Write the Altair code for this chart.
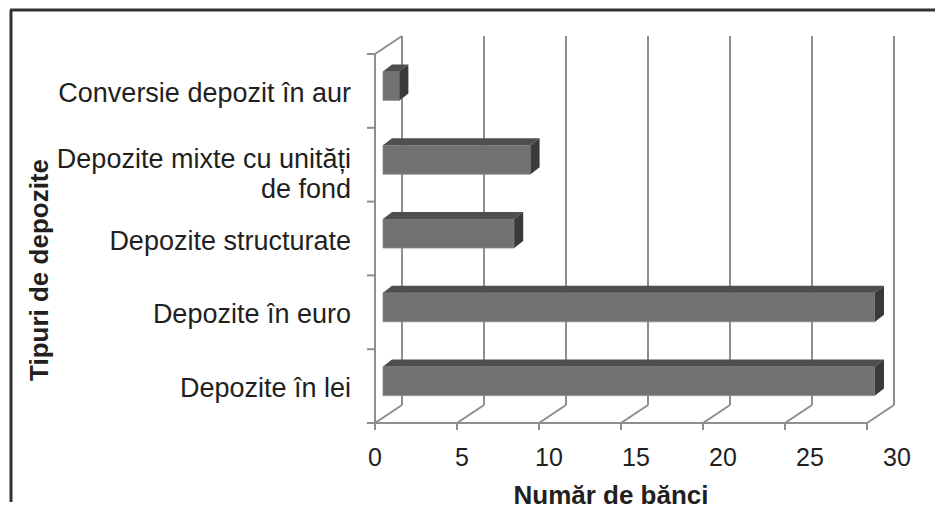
import altair as alt
import pandas as pd

# ---- data ----
categories = [
    "Depozite în lei",
    "Depozite în euro",
    "Depozite structurate",
    "Depozite mixte cu unități\nde fond",
    "Conversie depozit în aur",
]
values = [30, 30, 8, 9, 1]
x_ticks = [0, 5, 10, 15, 20, 25, 30]
x_title = "Număr de bănci"
y_title = "Tipuri de depozite"

# ---- layout / style ----
W, H = 492, 369
X_MAX = 30
N = len(categories)
PX_X = W / X_MAX
PX_Y = H / N
WALL_DX, WALL_DY = 27, -18      # depth of the 3D box (px)
BAR_DX, BAR_DY = 9, -7          # depth of bars (px)
FRONT_DX, FRONT_DY = 8, -5      # bar front face shift (px)
BAR_H = 29
LABEL_DRIFT = 1.0               # px of perspective drift per unit for tick labels
GRID = "#8e8e8e"
FRONT = "#717171"
TOP = "#4e4e4e"
SIDE = "#3a3a3a"
TXT = "#231f20"
FONT = "Liberation Sans"

xs = alt.Scale(domain=[0, X_MAX], nice=False, zero=False)
ys = alt.Scale(domain=[0, N], nice=False, zero=False)

rows, top_rows, side_rows = [], [], []
dxu = BAR_DX / PX_X
dyu = -BAR_DY / PX_Y
for i, (c, v) in enumerate(zip(categories, values)):
    mid = i + 0.5
    yt = mid + BAR_H / 2 / PX_Y
    yb = mid - BAR_H / 2 / PX_Y
    rows.append(dict(cat=c, v=v, x0=0, mid=mid, y_top=yt, y_bot=yb, multi=("\n" in c)))
    top_rows.append(dict(cat=c, y=yt, xa=0, xb=v))
    top_rows.append(dict(cat=c, y=yt + dyu, xa=dxu, xb=v + dxu))
    side_rows.append(dict(cat=c, x=v, ya=yb, yb=yt))
    side_rows.append(dict(cat=c, x=v + dxu, ya=yb + dyu, yb=yt + dyu))
bars = pd.DataFrame(rows)
top_df = pd.DataFrame(top_rows)
side_df = pd.DataFrame(side_rows)
ticks_df = pd.DataFrame({
    "t": x_ticks,
    "lab": [str(t) for t in x_ticks],
    "tl": [t + LABEL_DRIFT * t / PX_X for t in x_ticks],
})
yticks_df = pd.DataFrame({"k": list(range(N + 1))})
ends_df = pd.DataFrame({"a": [x_ticks[0]], "b": [x_ticks[-1]]})
one = pd.DataFrame({"a": [0]})

# ---- back wall gridlines ----
back = alt.Chart(ticks_df).mark_rule(
    color=GRID, strokeWidth=2, xOffset=WALL_DX, yOffset=WALL_DY, y2Offset=WALL_DY
).encode(x=alt.X("t:Q", scale=xs, axis=None), y=alt.value(0), y2=alt.value(H))

# ---- floor slants ----
floor = alt.Chart(ticks_df).mark_rule(
    color=GRID, strokeWidth=2, x2Offset=WALL_DX, y2Offset=WALL_DY
).encode(x=alt.X("t:Q", scale=xs, axis=None), x2="t:Q", y=alt.value(H), y2=alt.value(H))

# ---- floor front edge (x axis line) ----
floor_edge = alt.Chart(ends_df).mark_rule(color=GRID, strokeWidth=2).encode(
    x=alt.X("a:Q", scale=xs, axis=None), x2="b:Q", y=alt.value(H))
x_tickmarks = alt.Chart(ticks_df).mark_rule(color=GRID, strokeWidth=2).encode(
    x=alt.X("t:Q", scale=xs, axis=None), y=alt.value(H), y2=alt.value(H + 7))
x_labels = alt.Chart(ticks_df).mark_text(
    font=FONT, fontSize=25, color=TXT, align="center", baseline="alphabetic"
).encode(x=alt.X("tl:Q", scale=xs, axis=None), y=alt.value(H + 43), text="lab:N")

# ---- left wall ----
wall_top = alt.Chart(one).mark_rule(
    color=GRID, strokeWidth=2, x2Offset=WALL_DX, y2Offset=WALL_DY
).encode(x=alt.value(0), x2=alt.value(0), y=alt.value(0), y2=alt.value(0))
wall_edge = alt.Chart(one).mark_rule(color=GRID, strokeWidth=2).encode(
    x=alt.value(0), y=alt.value(0), y2=alt.value(H + 1))
y_tickmarks = alt.Chart(yticks_df).mark_rule(color=GRID, strokeWidth=2).encode(
    y=alt.Y("k:Q", scale=ys, axis=None), x=alt.value(-8), x2=alt.value(0))

# ---- bars ----
front = alt.Chart(bars).mark_rect(
    color=FRONT, stroke="#8c8c8c", strokeWidth=0.8,
    xOffset=FRONT_DX, x2Offset=FRONT_DX, yOffset=FRONT_DY, y2Offset=FRONT_DY
).encode(
    x=alt.X("x0:Q", scale=xs, axis=None), x2="v:Q",
    y=alt.Y("y_bot:Q", scale=ys, axis=None), y2="y_top:Q",
)

top = alt.Chart(top_df).mark_area(
    orient="horizontal", color=TOP, xOffset=FRONT_DX, x2Offset=FRONT_DX, yOffset=FRONT_DY
).encode(
    y=alt.Y("y:Q", scale=ys, axis=None),
    x=alt.X("xa:Q", scale=xs, axis=None, stack=False), x2="xb:Q",
    detail="cat:N",
)

side = alt.Chart(side_df).mark_area(
    orient="vertical", color=SIDE, xOffset=FRONT_DX, yOffset=FRONT_DY, y2Offset=FRONT_DY
).encode(
    x=alt.X("x:Q", scale=xs, axis=None),
    y=alt.Y("ya:Q", scale=ys, axis=None, stack=False), y2="yb:Q",
    detail="cat:N",
)

# ---- category labels ----
labels_single = alt.Chart(bars).transform_filter("!datum.multi").mark_text(
    align="right", baseline="middle", font=FONT, fontSize=27, color=TXT,
    dx=-24, dy=3,
).encode(x=alt.value(0), y=alt.Y("mid:Q", scale=ys, axis=None), text="cat:N")

labels_multi = alt.Chart(bars).transform_filter("datum.multi").mark_text(
    align="right", baseline="middle", font=FONT, fontSize=27, color=TXT,
    lineBreak="\n", lineHeight=30, dx=-24, dy=-5,
).encode(x=alt.value(0), y=alt.Y("mid:Q", scale=ys, axis=None), text="cat:N")

# ---- titles ----
x_title_mark = alt.Chart(one).mark_text(
    text=x_title, font=FONT, fontSize=26, fontWeight="bold", color=TXT,
    align="center", baseline="alphabetic",
).encode(x=alt.value(236), y=alt.value(H + 81))
y_title_mark = alt.Chart(one).mark_text(
    text=y_title, font=FONT, fontSize=26, fontWeight="bold", color=TXT,
    align="center", baseline="middle", angle=270,
).encode(x=alt.value(-335), y=alt.value(216))

# ---- outer frame ----
frame_left = alt.Chart(one).mark_rule(color="#333333", strokeWidth=3).encode(
    x=alt.value(-364), y=alt.value(-44), y2=alt.value(448))
frame_top = alt.Chart(one).mark_rule(color="#333333", strokeWidth=3).encode(
    x=alt.value(-365), x2=alt.value(560), y=alt.value(-44))

chart = alt.layer(
    back, floor, floor_edge, x_tickmarks, x_labels,
    wall_top, wall_edge, y_tickmarks,
    front, top, side, labels_single, labels_multi,
    x_title_mark, y_title_mark, frame_left, frame_top,
).properties(width=W, height=H, padding=0, background="white").configure_view(strokeWidth=0)

chart.save("out.html", embed_options={"renderer": "svg", "actions": False})
